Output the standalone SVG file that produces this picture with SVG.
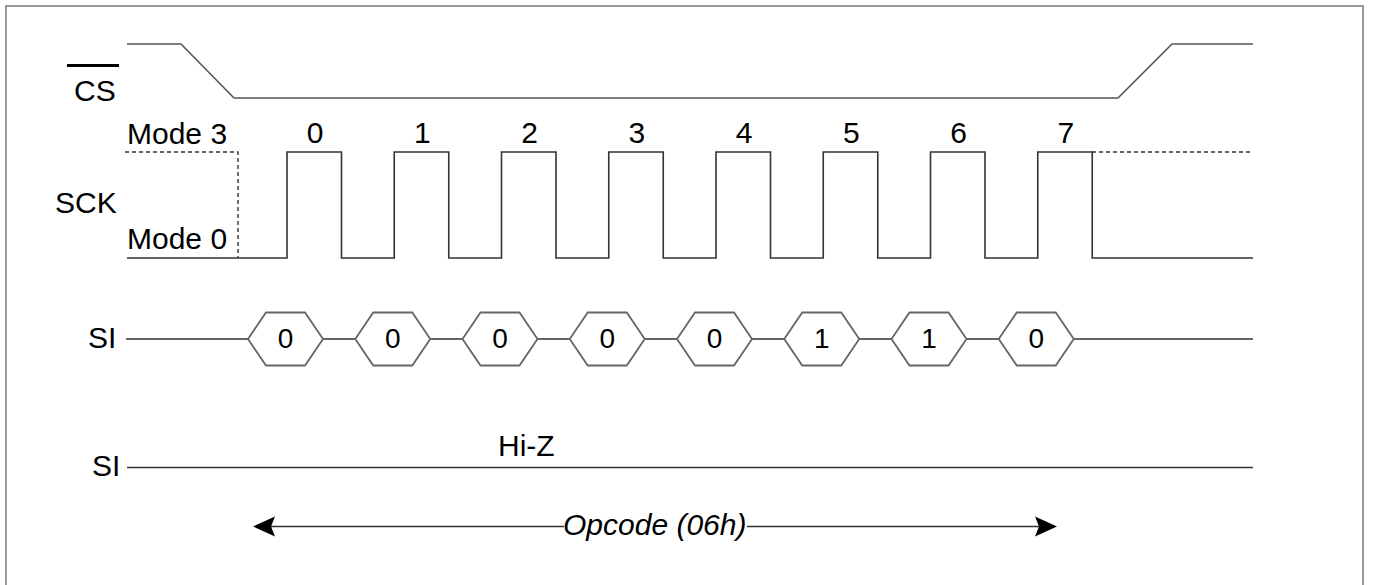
<svg xmlns="http://www.w3.org/2000/svg" width="1373" height="585" viewBox="0 0 1373 585">
<style>
.t{font-family:"Liberation Sans",Arial,sans-serif;font-size:30px;fill:#000}
.m{text-anchor:middle}
.it{font-style:italic}
.w{fill:none;stroke:#333;stroke-width:1.6}
.cs{fill:none;stroke:#555;stroke-width:1.6}
.d{fill:none;stroke:#333;stroke-width:1.4;stroke-dasharray:4 3}
.hex{fill:#fff;stroke:#666;stroke-width:1.8}
.hd{font-family:"Liberation Sans",Arial,sans-serif;font-size:28px;fill:#000;text-anchor:middle}
.ah{fill:#000}
</style>
<rect x="6" y="6" width="1357" height="600" fill="#fff" stroke="#808080" stroke-width="1.6"/>

<g id="cs">
<line x1="67" y1="65.5" x2="119" y2="65.5" stroke="#000" stroke-width="3.2"/>
<text class="t" x="74" y="101">CS</text>
<polyline class="cs" points="127,44 181,44 234,98 1118,98 1172,44 1253,44"/>
</g>

<g id="sck">
<text class="t" x="55" y="213">SCK</text>
<text class="t" x="127" y="144">Mode 3</text>
<text class="t" x="127" y="249">Mode 0</text>
<polyline class="d" points="125,152 238,152 238,258"/>
<polyline class="d" points="1092,152 1253,152"/>
<polyline class="w" points="127,258 287,258 287,152 341.5,152 341.5,258 394.25,258 394.25,152 448.75,152 448.75,258 501.5,258 501.5,152 556,152 556,258 608.75,258 608.75,152 663.25,152 663.25,258 716,258 716,152 770.5,152 770.5,258 823.25,258 823.25,152 877.75,152 877.75,258 930.5,258 930.5,152 985,152 985,258 1037.75,258 1037.75,152 1092.25,152 1092.25,258 1253,258"/>
<text class="t m" x="315" y="143">0</text>
<text class="t m" x="422.25" y="143">1</text>
<text class="t m" x="529.5" y="143">2</text>
<text class="t m" x="636.75" y="143">3</text>
<text class="t m" x="744" y="143">4</text>
<text class="t m" x="851.25" y="143">5</text>
<text class="t m" x="958.5" y="143">6</text>
<text class="t m" x="1065.75" y="143">7</text>
</g>

<g id="si">
<text class="t" x="88" y="348">SI</text>
<line class="w" x1="126" y1="339" x2="1253" y2="339" stroke="#000"/>
<g id="bits">
<polygon class="hex" points="248,339 266,312.5 305,312.5 323,339 305,365.5 266,365.5"/>
<text class="hd" x="285.5" y="348">0</text>
<polygon class="hex" points="355.25,339 373.25,312.5 412.25,312.5 430.25,339 412.25,365.5 373.25,365.5"/>
<text class="hd" x="392.75" y="348">0</text>
<polygon class="hex" points="462.5,339 480.5,312.5 519.5,312.5 537.5,339 519.5,365.5 480.5,365.5"/>
<text class="hd" x="500" y="348">0</text>
<polygon class="hex" points="569.75,339 587.75,312.5 626.75,312.5 644.75,339 626.75,365.5 587.75,365.5"/>
<text class="hd" x="607.25" y="348">0</text>
<polygon class="hex" points="677,339 695,312.5 734,312.5 752,339 734,365.5 695,365.5"/>
<text class="hd" x="714.5" y="348">0</text>
<polygon class="hex" points="784.25,339 802.25,312.5 841.25,312.5 859.25,339 841.25,365.5 802.25,365.5"/>
<text class="hd" x="821.75" y="348">1</text>
<polygon class="hex" points="891.5,339 909.5,312.5 948.5,312.5 966.5,339 948.5,365.5 909.5,365.5"/>
<text class="hd" x="929" y="348">1</text>
<polygon class="hex" points="998.75,339 1016.75,312.5 1055.75,312.5 1073.75,339 1055.75,365.5 1016.75,365.5"/>
<text class="hd" x="1036.25" y="348">0</text>
</g>
</g>

<g id="so">
<text class="t" x="92" y="476">SI</text>
<text class="t" x="498" y="456">Hi-Z</text>
<line class="w" x1="127" y1="467.5" x2="1253" y2="467.5"/>
</g>

<g id="connectors">
<line class="w" x1="270" y1="526.5" x2="564" y2="526.5"/>
<line class="w" x1="747" y1="526.5" x2="1040" y2="526.5"/>
<polygon class="ah" points="253,526.5 275,516.5 271,526.5 275,536.5"/>
<polygon class="ah" points="1057,526.5 1035,516.5 1039,526.5 1035,536.5"/>
<text class="t it" x="563" y="535">Opcode (06h)</text>
</g>
</svg>
